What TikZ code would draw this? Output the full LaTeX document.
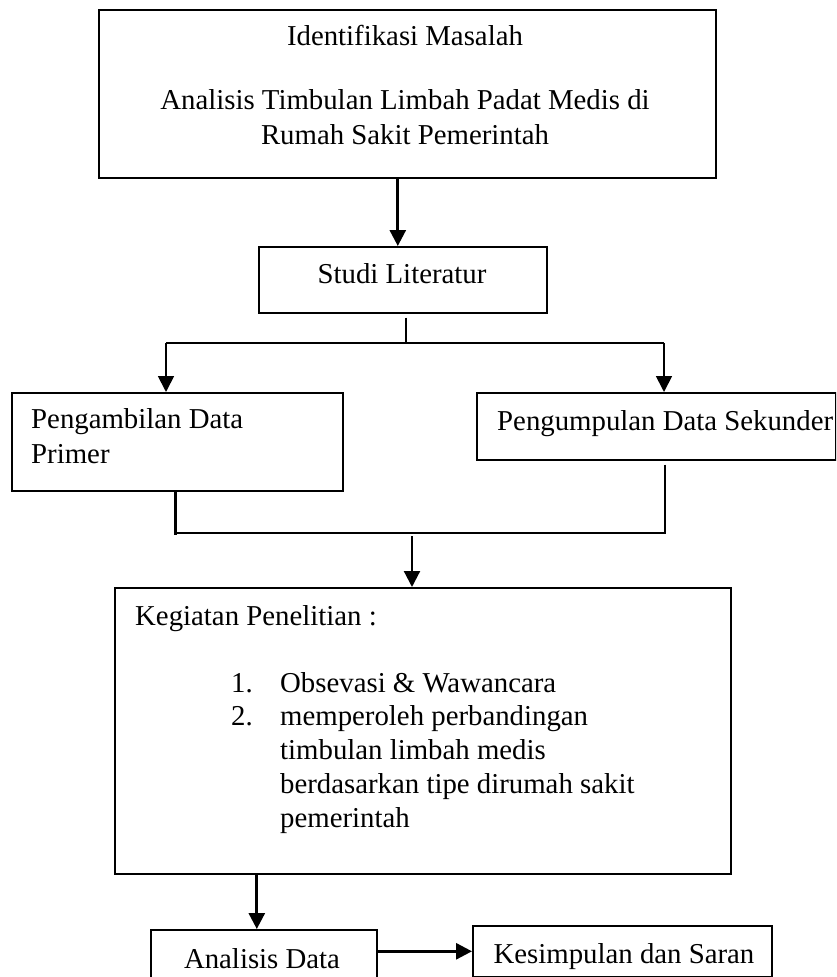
\documentclass[tikz,border=0pt]{standalone}
\usepackage{fontspec}
\setmainfont{Liberation Serif}
\usetikzlibrary{arrows.meta}
\newcommand{\rows}[2][l]{\begin{tabular}[t]{@{}#1@{}}#2\end{tabular}}

\begin{document}
\begin{tikzpicture}[x=1pt,y=-1pt,>={Triangle[length=16pt,width=16pt]},
  font=\fontsize{28.8}{35}\selectfont,
  box/.style={draw,line width=1.6pt,anchor=north west,inner sep=0pt},
  txt/.style={inner sep=0pt,anchor=base west},
  arr/.style={->,line width=2.8pt},
  lnk/.style={line width=1.8pt}]
\clip (0,0) rectangle (836,977);
\node[box,minimum width=617pt,minimum height=168pt] (ident) at (98,9) {};
\node[box,minimum width=288pt,minimum height=66pt] (studi) at (258,246) {};
\node[box,minimum width=331pt,minimum height=98pt] (prim) at (11,392) {};
\node[box,minimum width=359pt,minimum height=67pt] (sek) at (476,392) {};
\node[box,minimum width=616pt,minimum height=286pt] (keg) at (114,587) {};
\node[box,minimum width=226pt,minimum height=60pt] (anal) at (150,929) {};
\node[box,minimum width=299pt,minimum height=51pt] (kes) at (472,925) {};
\node[txt,anchor=base] (identT) at (405,45) {\rows[c]{Identifikasi Masalah\\[30pt]Analisis Timbulan Limbah Padat Medis di\\Rumah Sakit Pemerintah}};
\node[txt,anchor=base] (studiT) at (402,283) {Studi Literatur};
\node[txt] (primT) at (31,428) {\rows{Pengambilan Data\\Primer}};
\node[txt] (sekT) at (497,430) {Pengumpulan Data Sekunder};
\node[txt] (kegT) at (135,625) {Kegiatan Penelitian :};
\node[txt] (kegL) at (231,692) {\renewcommand\arraystretch{.97}\rows[p{49pt}@{}l]{1.&Obsevasi \& Wawancara\\2.&memperoleh perbandingan\\&timbulan limbah medis\\&berdasarkan tipe dirumah sakit\\&pemerintah}};
\node[txt,anchor=base] (analT) at (262,968) {Analisis Data};
\node[txt,anchor=base] (kesT) at (624,963) {Kesimpulan dan Saran};
\draw[arr] ([xshift=-5pt]studi.north |- ident.south) -- ([xshift=-5pt]studi.north);
\coordinate (brL) at (166,343); \coordinate (brR) at (664,343);
\draw[lnk] ([xshift=3pt,yshift=-4pt]studi.south) -- ([xshift=3pt]studi.south |- brL);
\draw[lnk] (brL) -- (brR);
\draw[arr,line width=1.8pt] (brL) -- (brL |- prim.north);
\draw[arr,line width=1.8pt] (brR) -- (brR |- sek.north);
\coordinate (mgL) at (175,533); \coordinate (mgR) at (665,533); \coordinate (mgC) at (412,536);
\draw[line width=3pt] (mgL |- prim.south) -- ([yshift=-2pt]mgL);
\draw[lnk] ([yshift=-4pt]mgR |- sek.south) -- (mgR) -- (mgL);
\draw[arr,line width=2.2pt] (mgC) -- (mgC |- keg.north);
\draw[arr] ([xshift=-7pt]anal.north |- keg.south) -- ([xshift=-7pt]anal.north);
\draw[arr] (anal.east |- kes.west) -- (kes.west);
\end{tikzpicture}
\end{document}
